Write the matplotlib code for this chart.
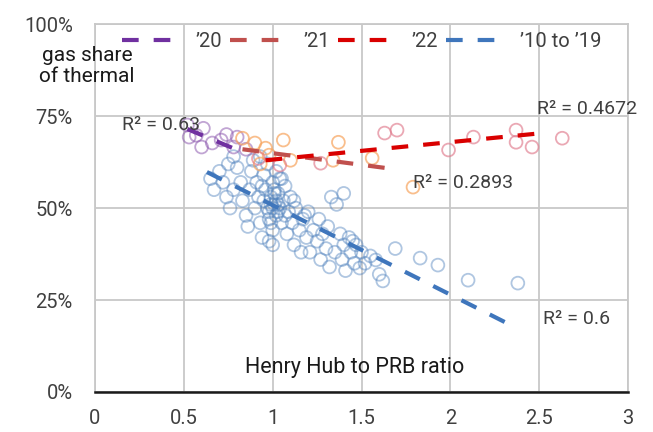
import matplotlib
matplotlib.use("Agg")
import matplotlib.pyplot as plt
from matplotlib.ticker import FuncFormatter
import numpy as np

plt.rcParams['font.family'] = ['Roboto', 'DejaVu Sans']

# ---- data (ratio, gas share %) ----
x_20 = [0.52, 0.57, 0.61, 0.53, 0.60, 0.66, 0.71, 0.80, 0.78, 0.85, 0.74]
y_20 = [72.6, 69.8, 71.7, 69.3, 66.6, 67.7, 68.5, 69.3, 66.6, 66.0, 70.0]

x_21 = [0.83, 0.90, 0.98, 1.06, 1.10, 1.37, 1.34, 1.56, 1.79, 0.96, 0.93]
y_21 = [69.0, 67.7, 64.4, 68.5, 63.0, 67.9, 63.0, 63.6, 55.7, 66.3, 62.0]

x_22 = [1.04, 1.27, 1.63, 1.70, 1.99, 2.13, 2.37, 2.37, 2.46, 2.63, 0.92]
y_22 = [61.7, 62.2, 70.4, 71.2, 65.8, 69.3, 71.2, 67.9, 66.6, 69.0, 63.5]

x_10_19 = [0.65, 0.67, 0.70, 0.72, 0.74, 0.76, 0.78, 0.80, 0.82, 0.83, 0.85, 0.86,
           0.87, 0.88, 0.89, 0.90, 0.91, 0.92, 0.93, 0.94, 0.95, 0.96, 0.97, 0.98,
           0.99, 1.00, 1.00, 1.01, 1.02, 1.02, 1.03, 1.04, 1.05, 1.06, 1.07, 1.08,
           1.09, 1.10, 1.11, 1.12, 1.13, 1.15, 1.16, 1.17, 1.19, 1.20, 1.21, 1.23,
           1.25, 1.26, 1.27, 1.28, 1.30, 1.31, 1.32, 1.33, 1.35, 1.36, 1.40, 1.38,
           1.39, 1.40, 1.41, 1.43, 1.44, 1.45, 1.46, 1.47, 1.49, 1.50, 1.52, 1.55,
           1.58, 1.62, 1.60, 1.69, 1.83, 1.93, 2.10, 2.38, 0.97, 1.05, 0.93, 0.78,
           0.75, 1.00, 0.98, 0.95, 1.03, 1.07, 0.99, 1.01, 0.94, 1.04, 1.12, 1.18,
           1.00, 1.02, 0.98, 1.01, 1.03, 0.99]
y_10_19 = [58.0, 55.0, 60.0, 57.0, 53.0, 50.0, 55.0, 61.0, 57.0, 52.0, 48.0, 45.0,
           55.0, 60.0, 63.0, 50.0, 57.0, 53.0, 46.0, 42.0, 59.0, 55.0, 50.0, 47.0,
           53.0, 57.0, 44.0, 51.0, 48.0, 60.0, 54.0, 50.0, 46.0, 52.0, 56.0, 43.0,
           49.0, 53.0, 46.0, 40.0, 50.0, 44.0, 38.0, 47.0, 42.0, 49.0, 38.0, 44.0,
           41.0, 47.0, 36.0, 43.0, 39.0, 45.0, 34.0, 53.0, 38.0, 51.0, 54.0, 43.0,
           36.0, 40.0, 33.0, 42.0, 38.0, 41.0, 35.0, 40.0, 33.7, 38.0, 35.0, 37.0,
           35.9, 30.2, 32.0, 39.0, 36.4, 34.5, 30.4, 29.6, 62.0, 58.0, 64.0, 64.0,
           62.0, 40.0, 41.0, 52.0, 49.0, 48.0, 51.0, 55.0, 56.0, 58.0, 52.0, 48.0,
           50.0, 52.0, 49.0, 54.0, 51.0, 46.0]

# trend lines (x endpoints, y endpoints in %)
trend_20_x, trend_20_y = [0.52, 0.84], [71.5, 65.0]
trend_21_x, trend_21_y = [0.83, 1.70], [66.0, 60.5]
trend_22_x, trend_22_y = [0.96, 2.52], [63.0, 70.4]
trend_10_19_x, trend_10_19_y = [0.63, 2.34], [59.8, 18.2]

labels = ["\u201920", "\u201921", "\u201922", "\u201910 to \u201919"]
r2_texts = ["R\u00b2 = 0.63", "R\u00b2 = 0.2893", "R\u00b2 = 0.4672", "R\u00b2 = 0.6"]

x_ticks = [0, 0.5, 1, 1.5, 2, 2.5, 3]
y_ticks = [0, 25, 50, 75, 100]

fig = plt.figure(figsize=(6.53, 4.32), dpi=100)
ax = fig.add_axes([0.1455, 0.0926, 0.8162, 0.8514])

ms = 85
ax.scatter(x_10_19, y_10_19, s=ms, facecolors='none', edgecolors='#4F81BD', alpha=0.45, linewidths=1.3, zorder=3)
ax.scatter(x_20, y_20, s=ms, facecolors='none', edgecolors='#8E5BB0', alpha=0.55, linewidths=1.3, zorder=3)
ax.scatter(x_21, y_21, s=ms, facecolors='none', edgecolors='#F7A35C', alpha=0.7, linewidths=1.3, zorder=3)
ax.scatter(x_22, y_22, s=ms, facecolors='none', edgecolors='#E07A8C', alpha=0.65, linewidths=1.3, zorder=3)

dash = (0, (4, 3.6))
lw = 3.0
l20, = ax.plot(trend_20_x, trend_20_y, color='#7030A0', lw=lw, linestyle=dash, zorder=4)
l21, = ax.plot(trend_21_x, trend_21_y, color='#C0504D', lw=lw, linestyle=dash, zorder=4)
l22, = ax.plot(trend_22_x, trend_22_y, color='#D90000', lw=lw, linestyle=dash, zorder=4)
l10, = ax.plot(trend_10_19_x, trend_10_19_y, color='#3F76BC', lw=lw, linestyle=dash, zorder=4)

leg = ax.legend([l20, l21, l22, l10], labels, ncol=4, loc='center', bbox_to_anchor=(0.5, 0.953),
                frameon=False, fontsize=14.5, handlelength=2.75, columnspacing=0.4, handletextpad=0.9,
                borderaxespad=0)
for t in leg.get_texts():
    t.set_color('#404040')

txt_kw = dict(fontsize=14, color='#404040', zorder=5)
ax.text(0.15, 72.5, r2_texts[0], ha='left', va='center', **txt_kw)
ax.text(1.79, 56.8, r2_texts[1], ha='left', va='center', **txt_kw)
ax.text(2.49, 77.0, r2_texts[2], ha='left', va='center', **txt_kw)
ax.text(2.52, 19.8, r2_texts[3], ha='left', va='center', **txt_kw)

ax.text(1.46, 6.6, "Henry Hub to PRB ratio", ha='center', va='center', fontsize=15.5, color='#1a1a1a', zorder=5)
fig.text(87 / 653, 1 - 66 / 432, "gas share\nof thermal", ha='center', va='center', fontsize=15,
         color='#1a1a1a', linespacing=1.12)

ax.set_xlim(0, 3)
ax.set_ylim(0, 100)
ax.set_xticks(x_ticks)
ax.set_yticks(y_ticks)
ax.xaxis.set_major_formatter(FuncFormatter(lambda v, p: f"{v:g}"))
ax.yaxis.set_major_formatter(FuncFormatter(lambda v, p: f"{v:.0f}%"))
ax.tick_params(length=0, labelsize=14.5, colors='#404040')
ax.tick_params(axis='y', pad=16)
ax.tick_params(axis='x', pad=12)
ax.grid(True, color='#C8C8C8', lw=1.3, zorder=0)
ax.set_axisbelow(True)
for s in ['left', 'top', 'right']:
    ax.spines[s].set_color('#C8C8C8')
    ax.spines[s].set_linewidth(1.3)
ax.spines['bottom'].set_color('#1a1a1a')
ax.spines['bottom'].set_linewidth(1.8)

fig.savefig("out.png", dpi=100)
